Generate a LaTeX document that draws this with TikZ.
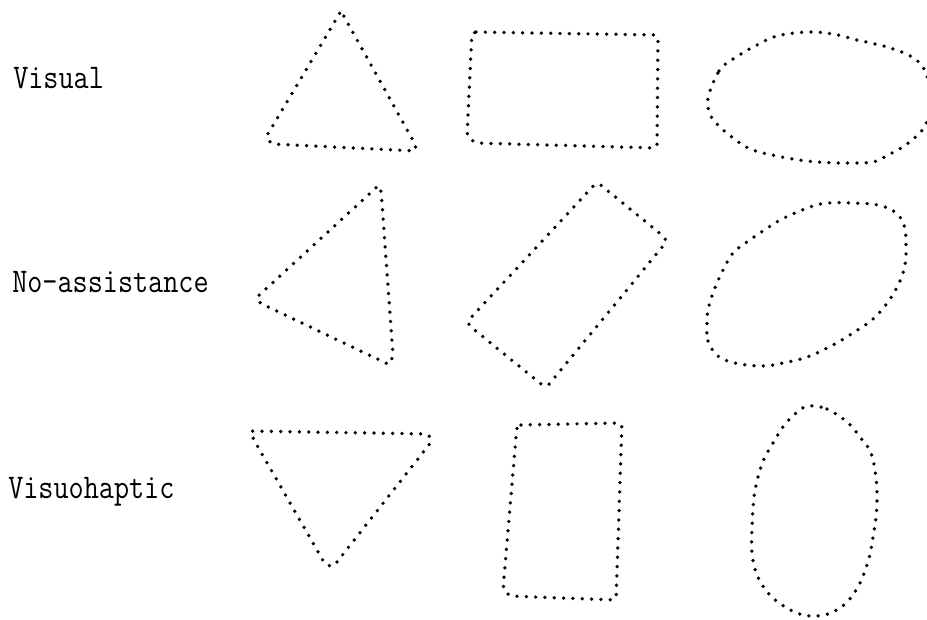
\documentclass[tikz,border=0pt]{standalone}
\begin{document}
\begin{tikzpicture}[x=0.75pt,y=-0.75pt,font=\ttfamily\fontsize{22}{26}\selectfont,line join=round,line cap=round,
		dots/.style={line width=2.8pt,dash pattern=on 0pt off 7pt}]
	\useasboundingbox (0,0) rectangle (927,619);
	% row labels
	\foreach \name/\x/\y/\lab in {
		visual/13/88/Visual, noassist/12/292/No-assistance, visuohaptic/8/498/Visuohaptic
	} {
		\node[anchor=base west,inner sep=0pt] (\name) at (\x,\y) {\scalebox{1}[1.18]{\lab}};
	}
	% triangles
	\draw[dots,rounded corners=2pt] (341,11) coordinate (TA) -- (266,137) -- (272,144) -- (416,151) coordinate (TB) -- (415,144) -- cycle;
	\draw[dots,rounded corners=2pt] (378,186) coordinate (TC) -- (256,298) -- (260,303) -- (390,365) coordinate (TD) -- (393,355) -- (381,190) -- cycle;
	\draw[dots,rounded corners=2pt] (250,431) coordinate (TE) -- (428,434) -- (432,441) -- (333,567) coordinate (TF) -- (325,564) -- (254,440) -- cycle;
	% rectangles
	\draw[dots,rounded corners=3pt] (472,32) coordinate (RA) -- (658,35) -- (657,148) -- (476,143) -- (467,137) -- cycle;
	\draw[dots,rounded corners=4pt] (597,182) coordinate (RB) -- (668,240) -- (546,388) -- (466,323) -- cycle;
	\draw[dots,rounded corners=3pt] (517,425) coordinate (RC) -- (622,423) -- (616,600) -- (509,596) -- (503,589) -- cycle;
	% ellipses
	\draw[dots] plot[smooth cycle,tension=0.6] coordinates {
		(708,98) (719,71) (733,59) (757,45) (777,36) (807,32) (833,34) (857,40) (887,47) (912,57) (925,71)
		(931,100) (925,126) (907,144) (888,155) (873,162) (847,163) (817,162) (793,159) (772,155) (750,149)
		(733,138) (718,125) (710,114)};
	\draw[dots] plot[smooth cycle,tension=0.6] coordinates {
		(707,323) (708,341) (718,356) (735,363) (762,366) (783,363) (807,357) (833,345) (853,333) (873,319)
		(888,302) (899,283) (905,265) (906,243) (904,225) (895,212) (878,205) (853,203) (828,203) (810,207)
		(782,219) (763,231) (747,242) (733,253) (722,272) (713,293) (708,310)};
	\draw[dots] plot[smooth cycle,tension=0.6] coordinates {
		(808,406) (827,409) (847,422) (860,437) (871,453) (876,478) (877,500) (876,517) (873,537) (869,558)
		(860,583) (848,601) (833,612) (817,616) (800,614) (782,605) (768,593) (757,575) (752,553) (752,527)
		(754,497) (758,477) (764,459) (773,443) (783,427) (795,414)};
\end{tikzpicture}
\end{document}
